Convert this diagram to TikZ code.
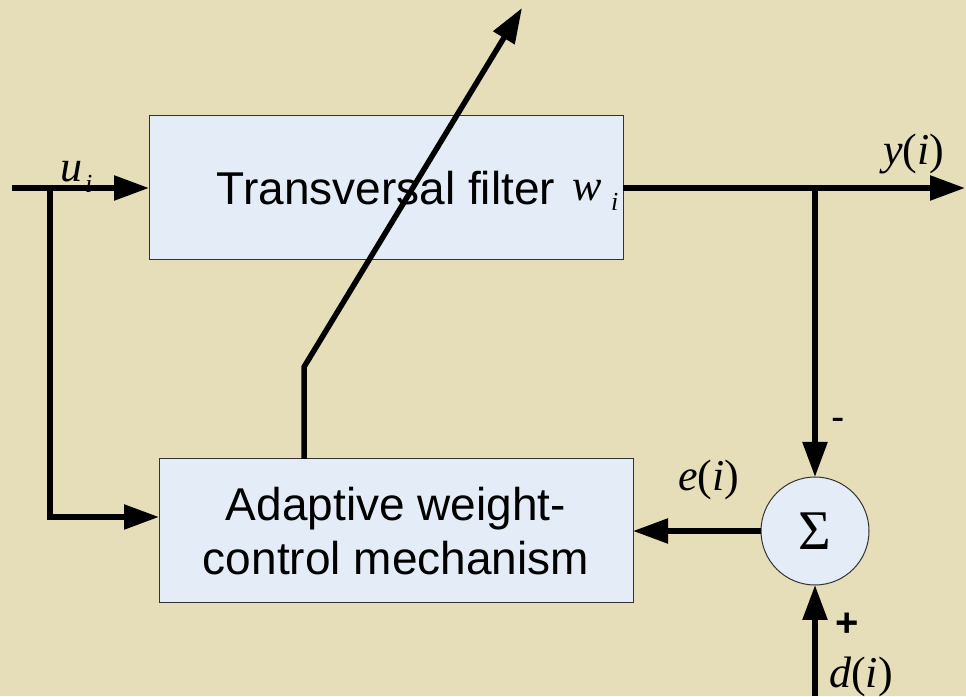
\documentclass[tikz,border=0pt]{standalone}
\usepackage{fontspec}
\setmainfont{Liberation Sans}
\newfontfamily\timesfont{Liberation Serif}
\usetikzlibrary{arrows.meta}

\begin{document}
\begin{tikzpicture}[x=1pt,y=1pt,
  block/.style={draw=blockline,line width=1pt,fill=blockfill,minimum width=474pt,minimum height=144pt,inner sep=0pt,outer sep=0pt,align=center,font=\fontsize{46}{54}\selectfont},
  sumnode/.style={circle,draw=blockline,line width=1pt,fill=blockfill,minimum size=108pt,inner sep=0pt,outer sep=0pt,font=\timesfont\fontsize{56}{56}\selectfont},
  wire/.style={line width=5.5pt,-{Triangle[length=35pt,width=24pt]}},
  sym/.style={inner sep=0pt,anchor=base west,font=\timesfont\fontsize{44}{44}\selectfont},
  subsc/.style={inner sep=0pt,anchor=base west,font=\timesfont\itshape\fontsize{26}{26}\selectfont},
  sgn/.style={inner sep=0pt,font=\fontsize{40}{40}\selectfont}]
% Define colours
\definecolor{paper}{RGB}{230,222,184}
\definecolor{blockfill}{RGB}{228,236,248}
\definecolor{blockline}{RGB}{50,50,50}

% Background
\fill[paper] (0,0) rectangle (966,696);
\useasboundingbox (0,0) rectangle (966,696);

% Draw blocks
\node[block] (filter) at (386,508) {Transversal filter};
\node[block] (adapt) at (396,165) {Adaptive weight-\\control mechanism};
\node[sumnode] (sum) at (815,165) {Σ};

% Signal points
\coordinate (input) at (12,508);
\coordinate (split) at (50,508);
\coordinate (output) at (965,508);
\coordinate (tap) at (815,508);
\coordinate (desired) at (815,0);
\coordinate (bend) at (304,329);
\coordinate (tune) at (522,688);

% Draw connections
\draw[wire] (input) -- (filter.west);
\draw[wire] (split) |- ([yshift=14pt]adapt.west);
\draw[wire] (filter.east) -- (output);
\draw[wire] (tap) -- (sum.north);
\draw[wire] (desired) -- (sum.south);
\draw[wire] (sum.west) -- (adapt.east);
\draw[wire] ([xshift=-92pt]adapt.north) -- (bend) -- (tune);

% Add signal labels
\node[sym] (u) at (60,514) {\itshape u};
\node[subsc] (ui) at (85,503) {i};
\node[sym] (w) at (572,495) {\itshape w};
\node[subsc] (wi) at (611,485) {i};
\node[sym] (y) at (883,531) {\textit{y}(\textit{i})};
\node[sym] (e) at (678,205) {\textit{e}(\textit{i})};
\node[sym] (d) at (829,9) {\textit{d}(\textit{i})};
\node[sgn] (minus) at (838,272) {-};
\node[sgn,font=\bfseries\fontsize{40}{40}\selectfont] (plus) at (847,71) {+};
\end{tikzpicture}
\end{document}
